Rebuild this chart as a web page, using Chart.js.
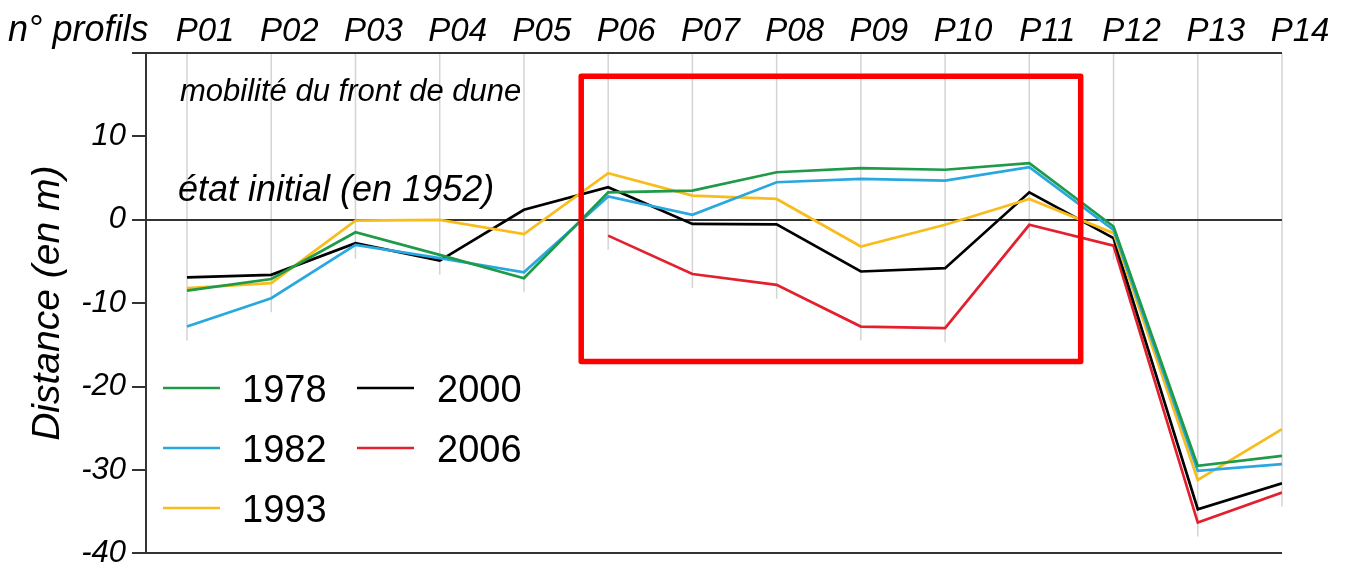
<!DOCTYPE html>
<html>
<head>
<meta charset="utf-8">
<script src="https://cdn.jsdelivr.net/npm/chart.js@4/dist/chart.umd.min.js"></script>
<style>
  html, body { margin: 0; padding: 0; background: #fff; }
  #wrap { width: 1345px; height: 578px; position: relative; }
</style>
</head>
<body>
<div id="wrap"><canvas id="dune-chart"></canvas></div>
<script>
const profils = ["P01", "P02", "P03", "P04", "P05", "P06", "P07", "P08", "P09", "P10", "P11", "P12", "P13", "P14"];
const annees = ["1978", "1982", "1993", "2000", "2006"];

const d1978 = [-8.5, -7.1, -1.5, -4.2, -7.0, 3.3, 3.5, 5.7, 6.2, 6.0, 6.8, -0.8, -29.5, -28.3];
const d1982 = [-12.8, -9.4, -3.0, -4.6, -6.3, 2.8, 0.6, 4.5, 4.9, 4.7, 6.3, -1.2, -30.1, -29.3];
const d1993 = [-8.2, -7.6, -0.1, 0.0, -1.7, 5.6, 2.9, 2.5, -3.2, -0.6, 2.5, -1.6, -31.2, -25.1];
const d2000 = [-6.9, -6.6, -2.8, -4.9, 1.2, 3.9, -0.5, -0.55, -6.2, -5.8, 3.3, -2.2, -34.7, -31.6];
const d2006 = [null, null, null, null, null, -1.9, -6.5, -7.8, -12.8, -13.0, -0.6, -3.1, -36.3, -32.7];

const yTicks = [-40, -30, -20, -10, 0, 10, 20];

// zone encadrée en rouge (unités des axes)
const cadre = { x0: 5.68, x1: 11.61, y0: 17.2, y1: -17.0 };

const couleurs = ["#1e9a48", "#29a8e0", "#f8bd1c", "#000000", "#e2202e"];
const FONT = "'Liberation Sans', Arial, sans-serif";

Chart.defaults.font.family = FONT;
Chart.defaults.color = "#000";

const series = [d1978, d1982, d1993, d2000, d2006];

const datasets = series.map((vals, k) => ({
  label: annees[k],
  data: profils.map((p, i) => ({ x: i + 1, y: vals[i] })),
  borderColor: couleurs[k],
  backgroundColor: couleurs[k],
  borderWidth: 2.7,
  pointRadius: 0,
  tension: 0,
  spanGaps: false,
}));

const decor = {
  id: "decor",
  beforeDraw(chart) {
    const { ctx, chartArea, scales: { x, y } } = chart;
    ctx.save();
    ctx.strokeStyle = "#d4d4d4";
    ctx.lineWidth = 1.5;
    profils.forEach((p, i) => {
      const vals = series.map((s) => s[i]).filter((v) => v !== null);
      const px = x.getPixelForValue(i + 1);
      ctx.beginPath();
      ctx.moveTo(px, chartArea.top);
      ctx.lineTo(px, y.getPixelForValue(Math.min(...vals)) + 14);
      ctx.stroke();
    });

    ctx.fillStyle = "#000";
    ctx.textBaseline = "alphabetic";
    ctx.textAlign = "left";
    ctx.font = "italic 31px " + FONT;
    ctx.fillText("mobilité du front de dune", 180, 101);
    ctx.font = "italic 36px " + FONT;
    ctx.fillText("état initial (en 1952)", 178, 201);
    ctx.font = "italic 36px " + FONT;
    ctx.fillText("n° profils", 8, 41);
    ctx.restore();
  },
  afterDatasetsDraw(chart) {
    const { ctx, scales: { x, y } } = chart;
    ctx.save();

    // cadre rouge
    const l = x.getPixelForValue(cadre.x0);
    const r = x.getPixelForValue(cadre.x1);
    const t = y.getPixelForValue(cadre.y0);
    const b = y.getPixelForValue(cadre.y1);
    ctx.strokeStyle = "#ff0000";
    ctx.lineWidth = 5.5;
    ctx.lineJoin = "round";
    ctx.strokeRect(l, t, r - l, b - t);

    // légende en deux colonnes
    const colLine = [163, 357];
    const colText = [242, 437];
    const rows = [388, 448, 508];
    ctx.font = "38px " + FONT;
    ctx.fillStyle = "#000";
    ctx.textBaseline = "alphabetic";
    chart.data.datasets.forEach((ds, i) => {
      const col = i < 3 ? 0 : 1;
      const row = i < 3 ? i : i - 3;
      const yy = rows[row];
      ctx.strokeStyle = ds.borderColor;
      ctx.lineWidth = 2.7;
      ctx.beginPath();
      ctx.moveTo(colLine[col], yy);
      ctx.lineTo(colLine[col] + 57, yy);
      ctx.stroke();
      ctx.fillText(ds.label, colText[col], yy + 14);
    });
    ctx.restore();
  },
};

new Chart(document.getElementById("dune-chart"), {
  type: "line",
  data: { datasets },
  options: {
    responsive: true,
    maintainAspectRatio: false,
    animation: false,
    layout: { padding: { left: 0, right: 63, top: 0, bottom: 24 } },
    plugins: {
      legend: { display: false },
      tooltip: { enabled: false },
    },
    scales: {
      x: {
        type: "linear",
        position: "top",
        min: 0.513,
        max: 14,
        afterBuildTicks: (s) => {
          s.ticks = profils.map((p, i) => ({ value: i + 1 }));
        },
        afterFit: (s) => {
          s.height = 53;
        },
        ticks: {
          autoSkip: false,
          maxRotation: 0,
          padding: 1,
          labelOffset: 18,
          color: "#000",
          font: { size: 33, style: "italic" },
          callback: (v) => profils[Math.round(v) - 1] ?? "",
        },
        grid: { display: false, drawTicks: false },
        border: { display: false },
      },
      y: {
        min: -40,
        max: 20,
        afterBuildTicks: (s) => {
          s.ticks = yTicks.map((v) => ({ value: v }));
        },
        afterFit: (s) => {
          s.width = 146;
        },
        ticks: {
          padding: 6,
          color: "#000",
          font: { size: 31, style: "italic" },
          callback: (v) => (v === 20 ? "" : v),
        },
        grid: {
          color: (c) => ([0, 20, -40].includes(c.tick.value) ? "#333" : "rgba(0,0,0,0)"),
          lineWidth: 2,
          tickColor: "#333",
          tickLength: 14,
        },
        border: { color: "#333", width: 2 },
        title: {
          display: true,
          text: "Distance (en m)",
          color: "#000",
          font: { size: 39, style: "italic" },
          padding: { top: 25 },
        },
      },
    },
  },
  plugins: [decor],
});
</script>
</body>
</html>
